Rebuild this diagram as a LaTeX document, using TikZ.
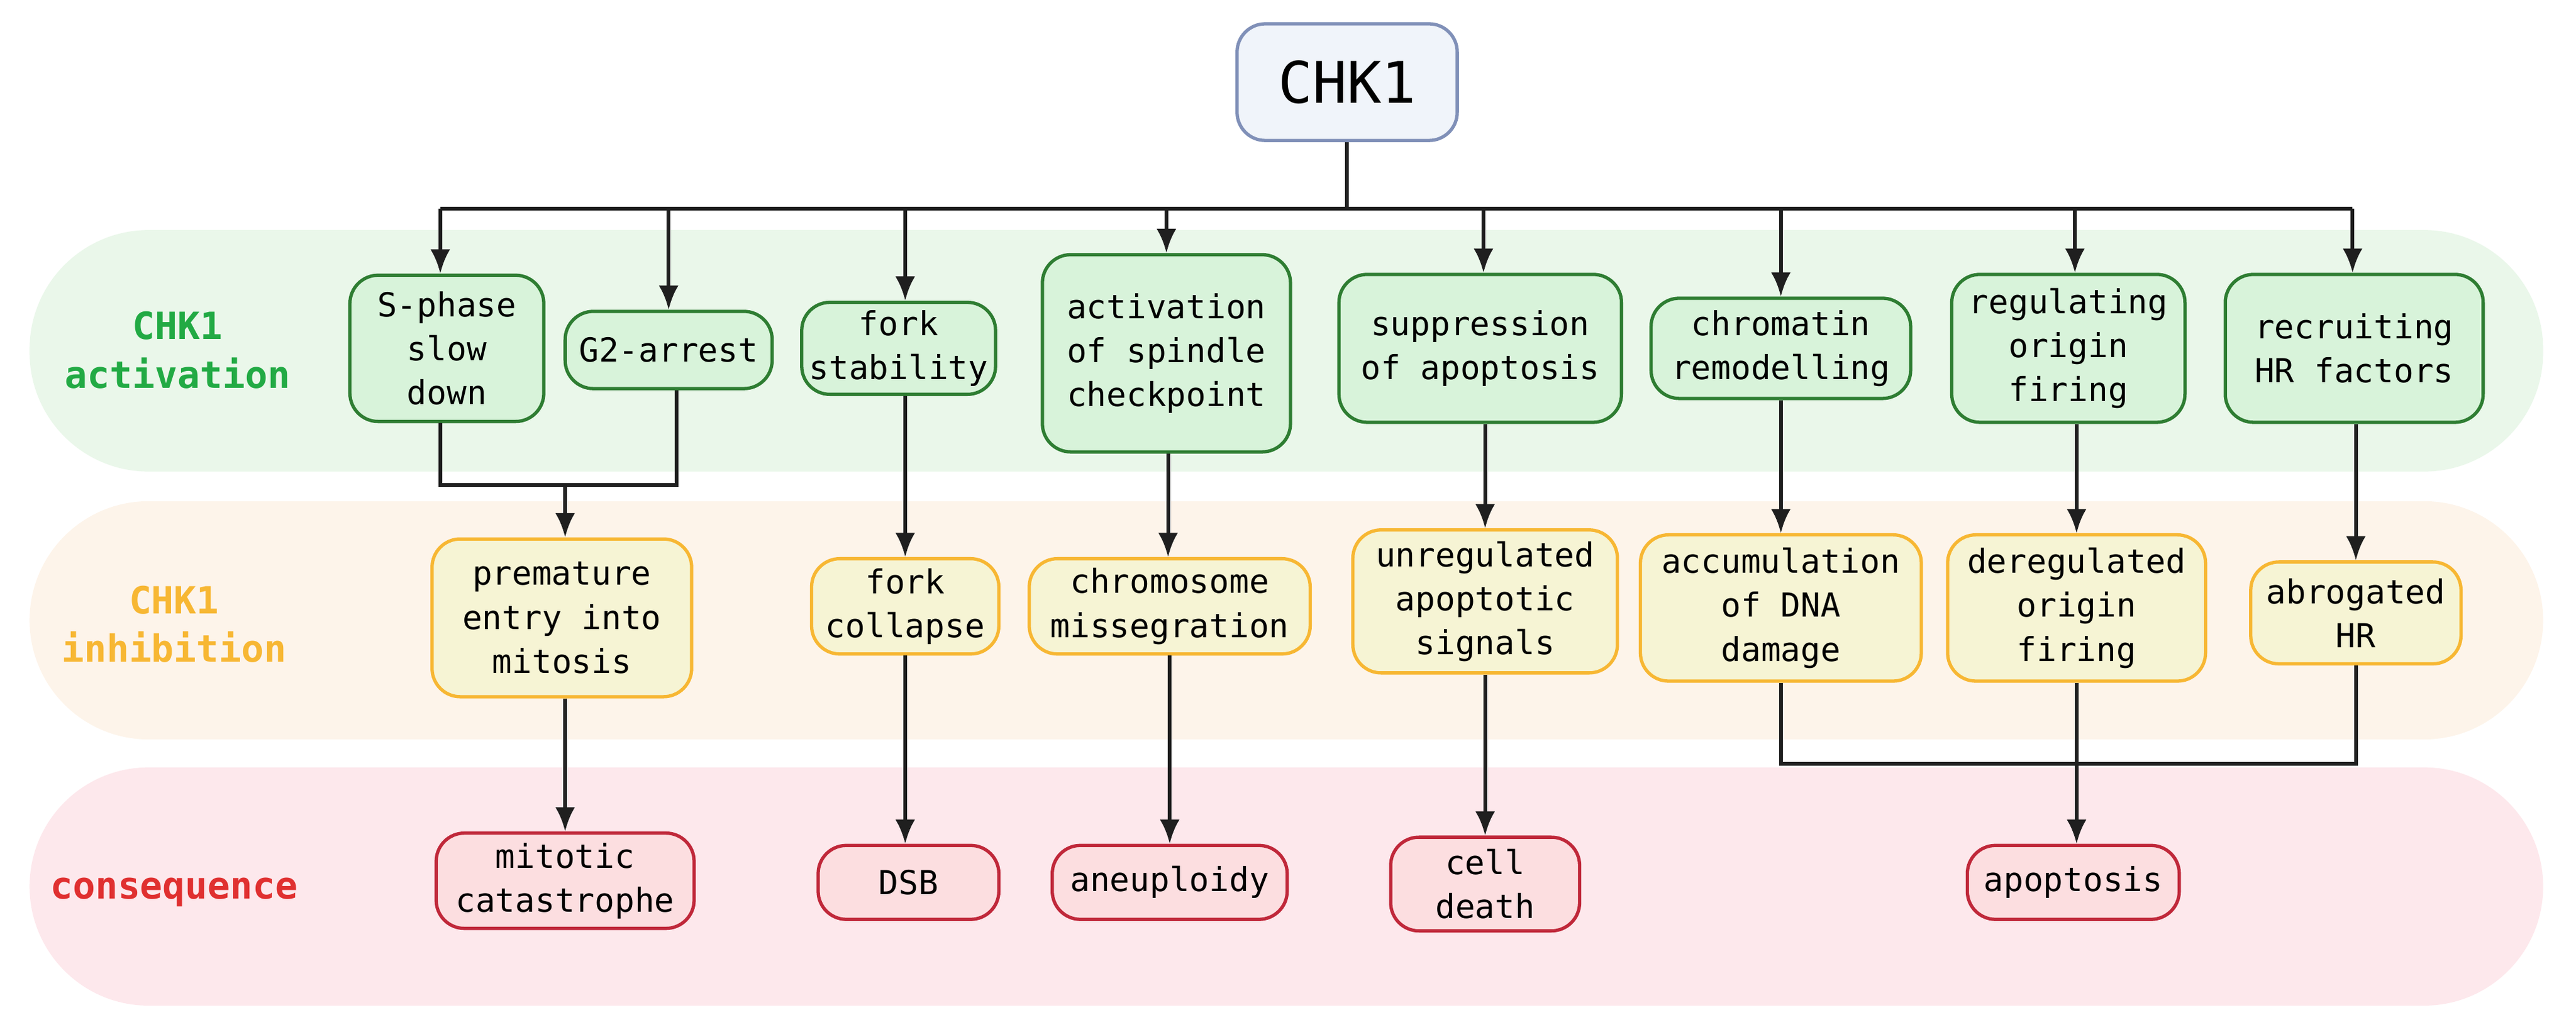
\documentclass[tikz,border=0pt]{standalone}
\usepackage{fontspec}
\setmainfont{DejaVu Sans Mono}
\usetikzlibrary{arrows.meta}
\definecolor{gf}{HTML}{D8F3DA}\definecolor{gd}{HTML}{2E7D32}
\definecolor{of}{HTML}{F6F4D4}\definecolor{od}{HTML}{F7B733}
\definecolor{rf}{HTML}{FCDEE0}\definecolor{rd}{HTML}{C0283A}
\definecolor{gb}{HTML}{EAF7EA}\definecolor{ob}{HTML}{FDF4EA}\definecolor{rb}{HTML}{FDE8EC}
\definecolor{gl}{HTML}{22AA44}\definecolor{rl}{HTML}{E03030}
\definecolor{cf}{HTML}{F0F4FA}\definecolor{cd}{HTML}{8090B8}
\begin{document}
\begin{tikzpicture}[x=0.02622cm,y=-0.02622cm,
 sz/.style 2 args={minimum width=#1*0.02622cm,minimum height=#2*0.02622cm},
 bx/.style={rounded corners=0.45cm,line width=1.5pt,align=center,inner sep=0pt,
   font=\fontsize{15}{20}\selectfont},
 g/.style={bx,fill=gf,draw=gd},
 o/.style={bx,fill=of,draw=od},
 r/.style={bx,fill=rf,draw=rd},
 band/.style={rounded corners=1.9cm},
 lab/.style={align=center,font=\fontsize{17}{22}\selectfont\bfseries},
 ln/.style={line width=1.7pt,black!88},
 ar/.style={ln,-{Latex[length=11pt,width=9pt]}}]
\useasboundingbox (0,0) rectangle (1568,627.8);
\fill[gb,band] (18,140) rectangle (1548,287);
\fill[ob,band] (18,305) rectangle (1548,450);
\fill[rb,band] (18,467) rectangle (1548,612);
\node[lab,text=gl] (la) at (108,213) {CHK1\\activation};
\node[lab,text=od] (li) at (106,380) {CHK1\\inhibition};
\node[lab,text=rl] (lc) at (106,543) {consequence};
\node[bx,fill=cf,draw=cd,sz={134}{71},font=\fontsize{26}{30}\selectfont] (c) at (820,50) {CHK1};
\node[g,sz={118}{89}] (g1) at (272,212) {S-phase\\slow\\down};
\node[g,sz={126}{47}] (g2) at (407,213) {G2-arrest};
\node[g,sz={118}{56}] (g3) at (547,212) {fork\\stability};
\node[g,sz={151}{120}] (g4) at (710,215) {activation\\of spindle\\checkpoint};
\node[g,sz={172}{90}] (g5) at (901,212) {suppression\\of apoptosis};
\node[g,sz={158}{61}] (g6) at (1084,212) {chromatin\\remodelling};
\node[g,sz={142}{90}] (g7) at (1259,212) {regulating\\origin\\firing};
\node[g,sz={157}{90}] (g8) at (1433,212) {recruiting\\HR factors};
\node[o,sz={158}{96}] (o1) at (342,376) {premature\\entry into\\mitosis};
\node[o,sz={114}{58}] (o3) at (551,369) {fork\\collapse};
\node[o,sz={171}{58}] (o4) at (712,369) {chromosome\\missegration};
\node[o,sz={161}{87}] (o5) at (904,366) {unregulated\\apoptotic\\signals};
\node[o,sz={171}{89}] (o6) at (1084,370) {accumulation\\of DNA\\damage};
\node[o,sz={157}{89}] (o7) at (1264,370) {deregulated\\origin\\firing};
\node[o,sz={128}{62}] (o8) at (1434,373) {abrogated\\HR};
\node[r,sz={157}{58}] (r1) at (344,536) {mitotic\\catastrophe};
\node[r,sz={110}{45}] (r3) at (553,537) {DSB};
\node[r,sz={143}{45}] (r4) at (712,537) {aneuploidy};
\node[r,sz={115}{57}] (r5) at (904,538) {cell\\death};
\node[r,sz={129}{45}] (r7) at (1262,537) {apoptosis};
\coordinate (b) at (820,127);
\draw[ln] (c.south) -- (b);
\draw[ln] (268,127) -- (1432,127);
\foreach \n/\x in {g1/268,g2/407,g3/551,g4/710,g5/903,g6/1084,g7/1263,g8/1432}
  \draw[ar] (\x,127) -- (\n.north -| \x,0);
\coordinate (j1) at (344,295);
\draw[ln] (g1.south -| 268,0) |- (j1) -| (g2.south -| 412,0);
\draw[ar] (j1) -- (o1.north -| 344,0);
\foreach \a/\bb/\x in {g3/o3/551,g4/o4/711,g5/o5/904,g6/o6/1084,g7/o7/1264,g8/o8/1434,o1/r1/344,o3/r3/551,o4/r4/712,o5/r5/904,o7/r7/1264}
  \draw[ar] (\a.south -| \x,0) -- (\bb.north -| \x,0);
\draw[ln] (o6.south) |- (1434,465) -- (o8.south -| 1434,0);
\end{tikzpicture}
\end{document}
